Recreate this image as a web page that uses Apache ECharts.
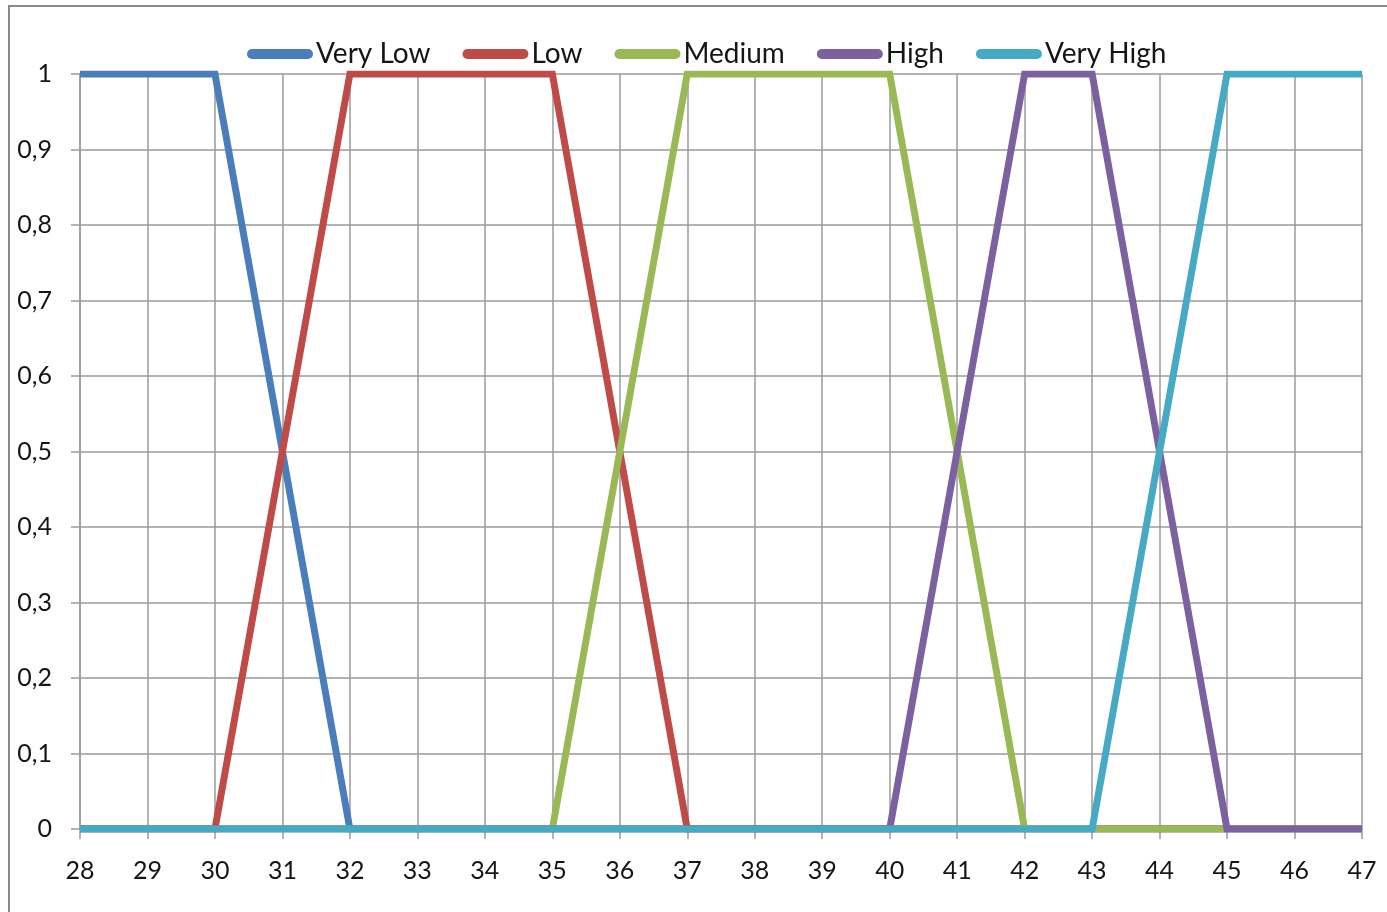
<!DOCTYPE html>
<html>
<head>
<meta charset="utf-8">
<script src="https://cdn.jsdelivr.net/npm/echarts@6/dist/echarts.min.js"></script>
<style>
html,body{margin:0;padding:0;background:#fff;}
#chart{width:1387px;height:912px;}
</style>
</head>
<body>
<div id="chart"></div>
<script>
// Membership function breakpoints
const seriesNames = ['Very Low', 'Low', 'Medium', 'High', 'Very High'];
const veryLowX = [28, 30, 32, 47];
const veryLowY = [1, 1, 0, 0];
const lowX = [28, 30, 32, 35, 37, 47];
const lowY = [0, 0, 1, 1, 0, 0];
const mediumX = [28, 35, 37, 40, 42, 47];
const mediumY = [0, 0, 1, 1, 0, 0];
const highX = [28, 40, 42, 43, 45, 47];
const highY = [0, 0, 1, 1, 0, 0];
const veryHighX = [28, 43, 45, 47];
const veryHighY = [0, 0, 1, 1];
const colors = ['#4A7EBB', '#BE4B48', '#98B954', '#7D60A0', '#46AAC5'];

const xs = [veryLowX, lowX, mediumX, highX, veryHighX];
const ys = [veryLowY, lowY, mediumY, highY, veryHighY];

const FONT = 'Lato';
const chart = echarts.init(document.getElementById('chart'));
const pill = 'path://M5,0 L61,0 A5,5 0 0 1 61,10 L5,10 A5,5 0 0 1 5,0 Z';

chart.setOption({
  animation: false,
  backgroundColor: '#fff',
  graphic: [{
    type: 'rect',
    shape: {x: 9, y: 6, width: 1400, height: 920},
    style: {fill: 'none', stroke: '#8a8a8a', lineWidth: 2},
    silent: true
  }],
  legend: {
    top: 39,
    left: 247,
    padding: 0,
    itemGap: 32,
    itemWidth: 66,
    itemHeight: 10,
    data: seriesNames.map((n, i) => ({name: n, icon: pill})),
    textStyle: {fontFamily: FONT, fontSize: 28, lineHeight: 30, color: '#151515', padding: [0, 0, 0, -2]}
  },
  grid: {left: 80, right: 25, top: 74, bottom: 83, containLabel: false},
  xAxis: {
    type: 'value', min: 28, max: 47, interval: 1,
    axisLine: {show: true, onZero: false, lineStyle: {color: '#9a9a9a', width: 1.5}},
    axisTick: {show: true, length: 10, lineStyle: {color: '#9a9a9a', width: 1.5}},
    axisLabel: {fontFamily: FONT, fontSize: 25, color: '#151515', margin: 29},
    splitLine: {show: true, lineStyle: {color: '#9a9a9a', width: 1.5}}
  },
  yAxis: {
    type: 'value', min: 0, max: 1, interval: 0.1,
    axisLine: {show: true, lineStyle: {color: '#9a9a9a', width: 1.5}},
    axisTick: {show: true, length: 9, lineStyle: {color: '#9a9a9a', width: 1.5}},
    axisLabel: {
      fontFamily: FONT, fontSize: 25, color: '#151515', margin: 28,
      formatter: v => (Math.round(v * 10) / 10).toString().replace('.', ',')
    },
    splitLine: {show: true, lineStyle: {color: '#9a9a9a', width: 1.5}}
  },
  series: seriesNames.map((n, i) => ({
    name: n,
    type: 'line',
    data: xs[i].map((x, j) => [x, ys[i][j]]),
    showSymbol: false,
    symbol: 'none',
    color: colors[i],
    lineStyle: {width: 7, color: colors[i], cap: 'butt', join: 'miter'},
    z: 2 + i
  }))
});
</script>
</body>
</html>
